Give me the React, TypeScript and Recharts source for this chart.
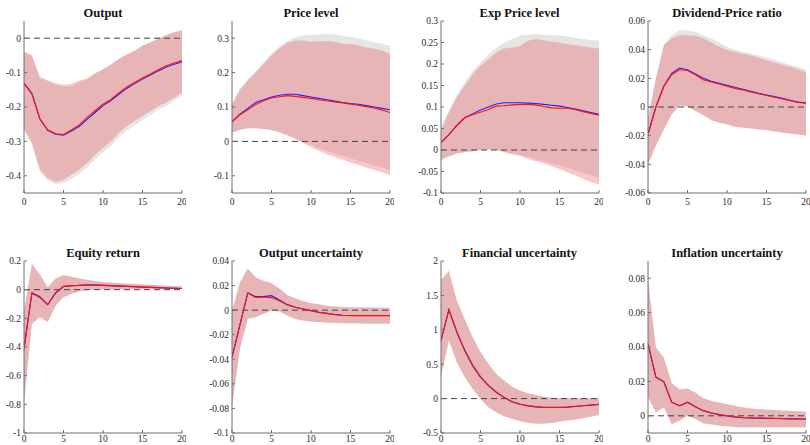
import React from 'react';
import { ComposedChart, Area, Line, XAxis, YAxis, ReferenceLine } from 'recharts';

// ---------- horizon & ticks ----------
const HORIZON = [0, 1, 2, 3, 4, 5, 6, 7, 8, 9, 10, 11, 12, 13, 14, 15, 16, 17, 18, 19, 20];
const X_TICKS = [0, 5, 10, 15, 20];

// ---------- Output ----------
const OUTPUT_TITLE = 'Output';
const OUTPUT_TICKS = [-0.4, -0.3, -0.2, -0.1, 0];
const OUTPUT_DOMAIN = [-0.45, 0.05];
const OUTPUT_RED = [-0.131, -0.161, -0.234, -0.266, -0.278, -0.280, -0.267, -0.252, -0.230, -0.211, -0.192, -0.178, -0.159, -0.142, -0.129, -0.116, -0.104, -0.092, -0.080, -0.072, -0.065];
const OUTPUT_BLUE = [-0.131, -0.161, -0.234, -0.268, -0.279, -0.282, -0.270, -0.256, -0.236, -0.216, -0.196, -0.181, -0.163, -0.146, -0.132, -0.119, -0.107, -0.095, -0.084, -0.076, -0.069];
const OUTPUT_PINK_HI = [-0.039, -0.049, -0.112, -0.122, -0.131, -0.135, -0.133, -0.123, -0.117, -0.101, -0.090, -0.076, -0.060, -0.047, -0.036, -0.021, -0.012, 0.000, 0.010, 0.018, 0.024];
const OUTPUT_PINK_LO = [-0.265, -0.304, -0.382, -0.407, -0.417, -0.412, -0.397, -0.382, -0.363, -0.339, -0.319, -0.300, -0.275, -0.256, -0.241, -0.226, -0.212, -0.197, -0.187, -0.173, -0.158];
const OUTPUT_GRAY_HI = [-0.040, -0.052, -0.115, -0.125, -0.136, -0.141, -0.140, -0.128, -0.119, -0.103, -0.091, -0.077, -0.061, -0.048, -0.037, -0.022, -0.013, -0.001, 0.008, 0.016, 0.022];
const OUTPUT_GRAY_LO = [-0.268, -0.308, -0.388, -0.414, -0.424, -0.422, -0.409, -0.394, -0.376, -0.352, -0.332, -0.313, -0.288, -0.268, -0.253, -0.238, -0.223, -0.208, -0.197, -0.182, -0.167];

// ---------- Price level ----------
const PRICE_TITLE = 'Price level';
const PRICE_TICKS = [-0.1, 0, 0.1, 0.2, 0.3];
const PRICE_DOMAIN = [-0.15, 0.35];
const PRICE_RED = [0.057, 0.077, 0.092, 0.107, 0.118, 0.126, 0.130, 0.133, 0.131, 0.128, 0.125, 0.121, 0.118, 0.115, 0.112, 0.108, 0.105, 0.101, 0.097, 0.091, 0.084];
const PRICE_BLUE = [0.057, 0.079, 0.096, 0.113, 0.121, 0.129, 0.134, 0.137, 0.137, 0.133, 0.129, 0.125, 0.121, 0.117, 0.113, 0.110, 0.108, 0.104, 0.100, 0.096, 0.092];
const PRICE_PINK_HI = [0.105, 0.150, 0.177, 0.200, 0.225, 0.250, 0.270, 0.286, 0.293, 0.293, 0.290, 0.291, 0.292, 0.290, 0.283, 0.283, 0.279, 0.274, 0.269, 0.264, 0.254];
const PRICE_PINK_LO = [0.026, 0.034, 0.038, 0.038, 0.036, 0.033, 0.026, 0.017, 0.007, -0.005, -0.017, -0.027, -0.037, -0.045, -0.053, -0.061, -0.068, -0.076, -0.083, -0.090, -0.098];
const PRICE_GRAY_HI = [0.110, 0.152, 0.180, 0.205, 0.230, 0.255, 0.276, 0.292, 0.303, 0.308, 0.310, 0.311, 0.313, 0.311, 0.307, 0.304, 0.300, 0.294, 0.288, 0.283, 0.278];
const PRICE_GRAY_LO = [0.024, 0.034, 0.038, 0.038, 0.036, 0.033, 0.027, 0.019, 0.010, -0.001, -0.010, -0.019, -0.028, -0.035, -0.042, -0.049, -0.056, -0.063, -0.070, -0.076, -0.084];

// ---------- Exp Price level ----------
const EXPPRICE_TITLE = 'Exp Price level';
const EXPPRICE_TICKS = [-0.1, -0.05, 0, 0.05, 0.1, 0.15, 0.2, 0.25, 0.3];
const EXPPRICE_DOMAIN = [-0.1, 0.3];
const EXPPRICE_RED = [0.017, 0.036, 0.057, 0.075, 0.082, 0.088, 0.094, 0.102, 0.103, 0.105, 0.106, 0.106, 0.105, 0.101, 0.098, 0.097, 0.097, 0.094, 0.089, 0.085, 0.081];
const EXPPRICE_BLUE = [0.017, 0.036, 0.057, 0.075, 0.084, 0.093, 0.100, 0.107, 0.110, 0.110, 0.110, 0.109, 0.108, 0.106, 0.104, 0.102, 0.099, 0.095, 0.091, 0.087, 0.083];
const EXPPRICE_PINK_HI = [0.044, 0.087, 0.122, 0.149, 0.176, 0.196, 0.211, 0.227, 0.236, 0.238, 0.242, 0.254, 0.258, 0.255, 0.252, 0.250, 0.246, 0.244, 0.241, 0.238, 0.236];
const EXPPRICE_PINK_LO = [-0.021, -0.014, -0.008, -0.005, -0.003, 0.000, 0.001, 0.000, -0.005, -0.010, -0.014, -0.021, -0.026, -0.031, -0.038, -0.044, -0.052, -0.059, -0.067, -0.075, -0.080];
const EXPPRICE_GRAY_HI = [0.056, 0.092, 0.128, 0.157, 0.183, 0.203, 0.222, 0.238, 0.250, 0.258, 0.266, 0.268, 0.270, 0.268, 0.267, 0.266, 0.264, 0.261, 0.258, 0.256, 0.254];
const EXPPRICE_GRAY_LO = [-0.025, -0.016, -0.009, -0.005, -0.003, 0.000, 0.001, 0.000, -0.004, -0.008, -0.011, -0.016, -0.021, -0.026, -0.031, -0.036, -0.041, -0.047, -0.053, -0.059, -0.065];

// ---------- Dividend-Price ratio ----------
const DP_TITLE = 'Dividend-Price ratio';
const DP_TICKS = [-0.06, -0.04, -0.02, 0, 0.02, 0.04, 0.06];
const DP_DOMAIN = [-0.06, 0.06];
const DP_RED = [-0.019, 0.000, 0.0145, 0.0225, 0.026, 0.0255, 0.0225, 0.019, 0.0175, 0.016, 0.0145, 0.013, 0.0118, 0.0105, 0.0092, 0.008, 0.0068, 0.0056, 0.0044, 0.0032, 0.0026];
const DP_BLUE = [-0.019, 0.000, 0.0145, 0.0235, 0.0272, 0.026, 0.023, 0.020, 0.018, 0.0166, 0.0152, 0.0138, 0.0124, 0.011, 0.0096, 0.0084, 0.0073, 0.0061, 0.0047, 0.0035, 0.0028];
const DP_PINK_HI = [-0.008, 0.0197, 0.043, 0.048, 0.050, 0.050, 0.0497, 0.048, 0.045, 0.042, 0.040, 0.0384, 0.037, 0.036, 0.0345, 0.0326, 0.031, 0.0295, 0.028, 0.0262, 0.0244];
const DP_PINK_LO = [-0.040, -0.027, -0.0155, -0.005, 0.0014, 0.0005, -0.0026, -0.0056, -0.009, -0.0108, -0.012, -0.0136, -0.0143, -0.0148, -0.0155, -0.016, -0.0169, -0.0178, -0.0185, -0.019, -0.0197];
const DP_GRAY_HI = [-0.007, 0.020, 0.043, 0.050, 0.0535, 0.0535, 0.0523, 0.050, 0.048, 0.045, 0.042, 0.040, 0.0385, 0.0375, 0.036, 0.0345, 0.033, 0.031, 0.0295, 0.028, 0.026];
const DP_GRAY_LO = [-0.040, -0.027, -0.016, -0.0055, 0.001, 0.0, -0.003, -0.006, -0.0093, -0.011, -0.0123, -0.0138, -0.0146, -0.0151, -0.0158, -0.0163, -0.0172, -0.018, -0.0188, -0.0193, -0.020];

// ---------- Equity return ----------
const EQ_TITLE = 'Equity return';
const EQ_TICKS = [-1, -0.8, -0.6, -0.4, -0.2, 0, 0.2];
const EQ_DOMAIN = [-1, 0.2];
const EQ_RED = [-0.419, -0.020, -0.047, -0.105, -0.020, 0.023, 0.028, 0.030, 0.034, 0.033, 0.030, 0.028, 0.026, 0.023, 0.021, 0.018, 0.016, 0.014, 0.012, 0.010, 0.008];
const EQ_BLUE = [-0.402, -0.025, -0.053, -0.105, -0.023, 0.022, 0.027, 0.030, 0.033, 0.032, 0.030, 0.028, 0.025, 0.023, 0.020, 0.018, 0.016, 0.014, 0.012, 0.010, 0.008];
const EQ_PINK_HI = [-0.147, 0.180, 0.110, 0.016, 0.079, 0.102, 0.090, 0.079, 0.070, 0.060, 0.053, 0.050, 0.047, 0.043, 0.040, 0.037, 0.035, 0.032, 0.028, 0.025, 0.023];
const EQ_PINK_LO = [-0.785, -0.240, -0.193, -0.228, -0.112, -0.053, -0.030, -0.012, -0.002, 0.000, 0.001, 0.001, 0.002, 0.002, 0.003, 0.003, 0.004, 0.004, 0.004, 0.005, 0.005];
const EQ_GRAY_HI = [-0.150, 0.175, 0.105, 0.014, 0.076, 0.099, 0.088, 0.077, 0.068, 0.059, 0.052, 0.049, 0.046, 0.042, 0.039, 0.036, 0.034, 0.031, 0.027, 0.024, 0.022];
const EQ_GRAY_LO = [-0.780, -0.236, -0.190, -0.224, -0.110, -0.051, -0.028, -0.011, -0.001, 0.001, 0.002, 0.002, 0.003, 0.003, 0.004, 0.004, 0.005, 0.005, 0.005, 0.006, 0.006];

// ---------- Output uncertainty ----------
const OU_TITLE = 'Output uncertainty';
const OU_TICKS = [-0.1, -0.08, -0.06, -0.04, -0.02, 0, 0.02, 0.04];
const OU_DOMAIN = [-0.1, 0.04];
const OU_RED = [-0.0384, -0.012, 0.0139, 0.0104, 0.0107, 0.0102, 0.0077, 0.0042, 0.0023, 0.0009, -0.0004, -0.0018, -0.0026, -0.0037, -0.0042, -0.0045, -0.0045, -0.0045, -0.0045, -0.0045, -0.0045];
const OU_BLUE = [-0.0384, -0.012, 0.0142, 0.011, 0.011, 0.0118, 0.0082, 0.0045, 0.0024, 0.001, -0.0004, -0.0017, -0.0026, -0.0036, -0.0041, -0.0044, -0.0044, -0.0044, -0.0044, -0.0044, -0.0044];
const OU_PINK_HI = [-0.0004, 0.0226, 0.034, 0.0267, 0.024, 0.022, 0.0177, 0.0123, 0.0096, 0.0074, 0.0058, 0.0047, 0.0036, 0.003, 0.0026, 0.0024, 0.0023, 0.0022, 0.0021, 0.002, 0.002];
const OU_PINK_LO = [-0.079, -0.0316, -0.0072, -0.0058, -0.0031, -0.0004, -0.0012, -0.0045, -0.0072, -0.0086, -0.0094, -0.0099, -0.0103, -0.0105, -0.0107, -0.0108, -0.0109, -0.011, -0.011, -0.011, -0.011];
const OU_GRAY_HI = [-0.0006, 0.0222, 0.0335, 0.0263, 0.0236, 0.0217, 0.0174, 0.0121, 0.0094, 0.0072, 0.0057, 0.0046, 0.0035, 0.0029, 0.0025, 0.0023, 0.0022, 0.0021, 0.002, 0.0019, 0.0019];
const OU_GRAY_LO = [-0.078, -0.0312, -0.007, -0.0056, -0.003, -0.0003, -0.0011, -0.0043, -0.007, -0.0084, -0.0092, -0.0097, -0.0101, -0.0103, -0.0105, -0.0106, -0.0107, -0.0108, -0.0108, -0.0108, -0.0108];

// ---------- Financial uncertainty ----------
const FU_TITLE = 'Financial uncertainty';
const FU_TICKS = [-0.5, 0, 0.5, 1, 1.5, 2];
const FU_DOMAIN = [-0.5, 2];
const FU_RED = [0.842, 1.292, 0.963, 0.697, 0.479, 0.309, 0.188, 0.091, 0.018, -0.045, -0.079, -0.103, -0.117, -0.127, -0.128, -0.127, -0.122, -0.113, -0.103, -0.093, -0.083];
const FU_BLUE = [0.842, 1.292, 0.970, 0.705, 0.487, 0.315, 0.192, 0.093, 0.018, -0.047, -0.082, -0.106, -0.120, -0.129, -0.130, -0.129, -0.124, -0.115, -0.105, -0.095, -0.085];
const FU_PINK_HI = [1.73, 1.86, 1.42, 1.155, 0.89, 0.672, 0.503, 0.358, 0.26, 0.173, 0.115, 0.077, 0.052, 0.028, 0.014, 0.006, 0.004, 0.004, 0.004, 0.004, 0.004];
const FU_PINK_LO = [0.31, 0.842, 0.527, 0.309, 0.14, -0.006, -0.127, -0.2, -0.258, -0.296, -0.33, -0.355, -0.365, -0.365, -0.355, -0.335, -0.32, -0.306, -0.287, -0.263, -0.238];
const FU_GRAY_HI = [1.72, 1.85, 1.43, 1.165, 0.9, 0.68, 0.51, 0.363, 0.263, 0.175, 0.116, 0.078, 0.052, 0.028, 0.014, 0.006, 0.004, 0.004, 0.004, 0.004, 0.004];
const FU_GRAY_LO = [0.32, 0.85, 0.535, 0.315, 0.145, -0.003, -0.124, -0.197, -0.255, -0.293, -0.327, -0.352, -0.362, -0.362, -0.352, -0.332, -0.317, -0.303, -0.284, -0.26, -0.235];

// ---------- Inflation uncertainty ----------
const IU_TITLE = 'Inflation uncertainty';
const IU_TICKS = [0, 0.02, 0.04, 0.06, 0.08];
const IU_DOMAIN = [-0.01, 0.09];
const IU_RED = [0.0417, 0.0223, 0.0198, 0.0078, 0.0058, 0.0078, 0.0052, 0.0029, 0.0016, 0.0008, 0.0, -0.0006, -0.001, -0.0012, -0.0013, -0.0014, -0.0015, -0.0016, -0.0017, -0.0018, -0.0019];
const IU_BLUE = [0.0419, 0.0225, 0.0199, 0.0079, 0.0059, 0.0079, 0.0053, 0.003, 0.0016, 0.0007, -0.0001, -0.0007, -0.0011, -0.0013, -0.0014, -0.0015, -0.0016, -0.0017, -0.0018, -0.0019, -0.002];
const IU_PINK_HI = [0.0796, 0.0398, 0.034, 0.019, 0.0155, 0.0159, 0.0136, 0.0103, 0.0087, 0.0078, 0.0068, 0.0058, 0.0049, 0.0043, 0.0039, 0.0036, 0.0033, 0.0031, 0.0029, 0.0027, 0.0025];
const IU_PINK_LO = [0.0107, 0.0019, 0.0049, -0.0049, -0.0029, 0.0, -0.0019, -0.0045, -0.005, -0.0058, -0.0062, -0.0066, -0.0068, -0.0068, -0.0068, -0.0068, -0.0068, -0.0068, -0.0068, -0.0068, -0.0068];
const IU_GRAY_HI = [0.079, 0.0394, 0.0336, 0.0188, 0.0153, 0.0157, 0.0134, 0.0101, 0.0085, 0.0076, 0.0066, 0.0057, 0.0048, 0.0042, 0.0038, 0.0035, 0.0032, 0.003, 0.0028, 0.0026, 0.0024];
const IU_GRAY_LO = [0.011, 0.0021, 0.005, -0.0047, -0.0027, 0.0001, -0.0018, -0.0043, -0.0048, -0.0056, -0.006, -0.0064, -0.0066, -0.0066, -0.0066, -0.0066, -0.0066, -0.0066, -0.0066, -0.0066, -0.0066];

type PanelSpec = {
  title: string;
  ticks: number[];
  domain: number[];
  red: number[];
  blue: number[];
  pinkHi: number[];
  pinkLo: number[];
  grayHi: number[];
  grayLo: number[];
};

const PANELS: PanelSpec[] = [
  { title: OUTPUT_TITLE, ticks: OUTPUT_TICKS, domain: OUTPUT_DOMAIN, red: OUTPUT_RED, blue: OUTPUT_BLUE, pinkHi: OUTPUT_PINK_HI, pinkLo: OUTPUT_PINK_LO, grayHi: OUTPUT_GRAY_HI, grayLo: OUTPUT_GRAY_LO },
  { title: PRICE_TITLE, ticks: PRICE_TICKS, domain: PRICE_DOMAIN, red: PRICE_RED, blue: PRICE_BLUE, pinkHi: PRICE_PINK_HI, pinkLo: PRICE_PINK_LO, grayHi: PRICE_GRAY_HI, grayLo: PRICE_GRAY_LO },
  { title: EXPPRICE_TITLE, ticks: EXPPRICE_TICKS, domain: EXPPRICE_DOMAIN, red: EXPPRICE_RED, blue: EXPPRICE_BLUE, pinkHi: EXPPRICE_PINK_HI, pinkLo: EXPPRICE_PINK_LO, grayHi: EXPPRICE_GRAY_HI, grayLo: EXPPRICE_GRAY_LO },
  { title: DP_TITLE, ticks: DP_TICKS, domain: DP_DOMAIN, red: DP_RED, blue: DP_BLUE, pinkHi: DP_PINK_HI, pinkLo: DP_PINK_LO, grayHi: DP_GRAY_HI, grayLo: DP_GRAY_LO },
  { title: EQ_TITLE, ticks: EQ_TICKS, domain: EQ_DOMAIN, red: EQ_RED, blue: EQ_BLUE, pinkHi: EQ_PINK_HI, pinkLo: EQ_PINK_LO, grayHi: EQ_GRAY_HI, grayLo: EQ_GRAY_LO },
  { title: OU_TITLE, ticks: OU_TICKS, domain: OU_DOMAIN, red: OU_RED, blue: OU_BLUE, pinkHi: OU_PINK_HI, pinkLo: OU_PINK_LO, grayHi: OU_GRAY_HI, grayLo: OU_GRAY_LO },
  { title: FU_TITLE, ticks: FU_TICKS, domain: FU_DOMAIN, red: FU_RED, blue: FU_BLUE, pinkHi: FU_PINK_HI, pinkLo: FU_PINK_LO, grayHi: FU_GRAY_HI, grayLo: FU_GRAY_LO },
  { title: IU_TITLE, ticks: IU_TICKS, domain: IU_DOMAIN, red: IU_RED, blue: IU_BLUE, pinkHi: IU_PINK_HI, pinkLo: IU_PINK_LO, grayHi: IU_GRAY_HI, grayLo: IU_GRAY_LO },
];

// ---------- layout ----------
const COL_LEFT = [24, 232, 440.5, 648];
const ROW_TOP = [21, 260.7];
const ROW_XTICK_MARGIN = [8, 5];
const BOX_W = 158;
const BOX_H = 172;
const AXIS_W = 40;
const PAD_T = 4;
const PAD_R = 4;
const AXIS_H = 14;

const FONT = '"Liberation Serif", "Times New Roman", Times, serif';
const AXIS_COLOR = '#6e6e6e';
const TEXT_COLOR = '#2a2a2a';

const fmt = (v: number) => {
  const r = Number(v.toFixed(4));
  return r === 0 ? '0' : String(r);
};

function Panel({ spec, left, top, xTickMargin }: { spec: PanelSpec; left: number; top: number; xTickMargin: number }) {
  const data = HORIZON.map((h, i) => ({
    h,
    red: spec.red[i],
    blue: spec.blue[i],
    pink: [spec.pinkLo[i], spec.pinkHi[i]],
    gray: [spec.grayLo[i], spec.grayHi[i]],
  }));
  const tickStyle = { fontFamily: FONT, fontSize: 9.5, fill: TEXT_COLOR };
  return (
    <>
      <div
        style={{
          position: 'absolute',
          left,
          top: top - 16,
          width: BOX_W,
          textAlign: 'center',
          fontFamily: FONT,
          fontWeight: 'bold',
          fontSize: 12.5,
          lineHeight: '16px',
          color: '#111',
          whiteSpace: 'nowrap',
        }}
      >
        {spec.title}
      </div>
      <div style={{ position: 'absolute', left: left - AXIS_W, top: top - PAD_T }}>
        <ComposedChart
          width={AXIS_W + BOX_W + PAD_R}
          height={PAD_T + BOX_H + AXIS_H}
          data={data}
          margin={{ top: PAD_T, right: PAD_R, bottom: 0, left: 0 }}
          style={{ overflow: 'visible' }}
        >
          <XAxis
            dataKey="h"
            type="number"
            domain={[0, 20]}
            ticks={X_TICKS}
            interval={0}
            height={AXIS_H}
            tickSize={-3}
            tickMargin={xTickMargin}
            stroke={AXIS_COLOR}
            tick={tickStyle}
            tickFormatter={fmt}
            allowDataOverflow
          />
          <XAxis
            xAxisId="top"
            orientation="top"
            dataKey="h"
            type="number"
            domain={[0, 20]}
            ticks={X_TICKS}
            interval={0}
            height={0}
            tickSize={-3}
            stroke={AXIS_COLOR}
            tickFormatter={() => ''}
            allowDataOverflow
          />
          <YAxis
            type="number"
            domain={spec.domain}
            ticks={spec.ticks}
            interval={0}
            width={AXIS_W}
            tickSize={-3}
            tickMargin={6}
            stroke={AXIS_COLOR}
            tick={tickStyle}
            tickFormatter={fmt}
            allowDataOverflow
          />
          <YAxis
            yAxisId="right"
            orientation="right"
            type="number"
            domain={spec.domain}
            ticks={spec.ticks}
            interval={0}
            width={0}
            tickSize={-3}
            stroke={AXIS_COLOR}
            tickFormatter={() => ''}
            allowDataOverflow
          />
          <Area
            dataKey="gray"
            type="linear"
            stroke="none"
            fill="#e5e5e5"
            fillOpacity={1}
            isAnimationActive={false}
            activeDot={false}
          />
          <Area
            dataKey="pink"
            type="linear"
            stroke="none"
            fill="rgb(236,86,86)"
            fillOpacity={0.33}
            isAnimationActive={false}
            activeDot={false}
          />
          <ReferenceLine y={0} stroke="#444" strokeWidth={1} strokeDasharray="6 4" />
          <Line dataKey="blue" type="linear" stroke="#2020ff" strokeWidth={1.1} dot={false} isAnimationActive={false} activeDot={false} />
          <Line dataKey="red" type="linear" stroke="#ff1010" strokeWidth={1.1} dot={false} isAnimationActive={false} activeDot={false} />
        </ComposedChart>
      </div>
    </>
  );
}

export default function App() {
  return (
    <div
      style={{
        position: 'absolute',
        left: 0,
        top: 0,
        width: 810,
        height: 445,
        background: '#fff',
        overflow: 'hidden',
      }}
    >
      {PANELS.map((p, i) => (
        <Panel
          key={p.title}
          spec={p}
          left={COL_LEFT[i % 4]}
          top={ROW_TOP[Math.floor(i / 4)]}
          xTickMargin={ROW_XTICK_MARGIN[Math.floor(i / 4)]}
        />
      ))}
    </div>
  );
}
